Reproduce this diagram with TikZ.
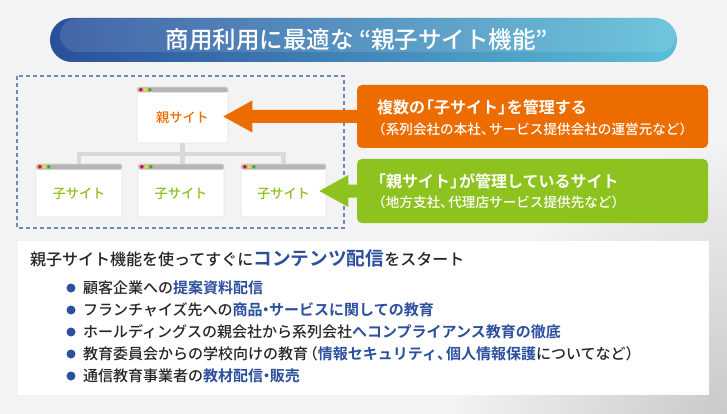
\documentclass[tikz,border=0pt]{standalone}
\usepackage{fontspec}
\setmainfont{Noto Sans CJK JP}[UprightFont={* Medium}, BoldFont={* Bold}]
\usetikzlibrary{calc}
\definecolor{bgc}{HTML}{F3F3F3}
\definecolor{bgd}{HTML}{C4C4C4}
\definecolor{banL}{HTML}{2A4F9C}
\definecolor{banR}{HTML}{5BBFD7}
\definecolor{dashc}{HTML}{7088BE}
\definecolor{orangec}{HTML}{ED6C00}
\definecolor{greenc}{HTML}{8DC21F}
\definecolor{bluec}{HTML}{2C4F9E}
\definecolor{treec}{HTML}{D9D9D9}
\definecolor{winbar}{HTML}{B5B5B5}
\definecolor{winborder}{HTML}{E2E2E2}
\definecolor{dred}{HTML}{E60012}
\definecolor{dyel}{HTML}{FFE100}
\definecolor{dgrn}{HTML}{3AA935}
\definecolor{textc}{HTML}{262626}
\newcommand{\hlt}[1]{{\bfseries\color{bluec}#1}}
\newcommand{\lowered}[1]{\raisebox{-3pt}[\height][\depth]{#1}}
\newcommand{\lb}{\kern-0.45em「}
\newcommand{\rb}{」\kern-0.45em}
\newcommand{\cm}{、\kern-0.4em}
\newcommand{\nk}{\kern-0.28em・\kern-0.28em}
\newcommand{\lp}{\kern-0.35em（}
\begin{document}
\begin{tikzpicture}[x=1pt,y=-1pt,
  win/.style={draw=winborder, line width=0.6pt, fill=white, rounded corners=1.5pt,
    inner sep=0pt, font=\fontsize{13.2}{14}\selectfont,
    path picture={
      \fill[winbar] (path picture bounding box.north west) rectangle ($(path picture bounding box.north east)+(0,5.5)$);
      \fill[dred] ($(path picture bounding box.north west)+(2,1)$) rectangle ++(3.5,3.5);
      \fill[dyel] ($(path picture bounding box.north west)+(6.5,1)$) rectangle ++(3.5,3.5);
      \fill[dgrn] ($(path picture bounding box.north west)+(11,1)$) rectangle ++(3.5,3.5);
    }},
  tree/.style={draw=treec, line width=4.5pt, line join=miter},
  infobox/.style={rounded corners=5pt, minimum width=351pt, inner sep=0pt},
  bigtxt/.style={anchor=west, inner sep=0pt, text=white, font=\bfseries\fontsize{16}{18}\selectfont},
  smalltxt/.style={anchor=west, inner sep=0pt, text=white, font=\fontsize{13.6}{15}\selectfont},
  bul/.style={circle, fill=bluec, minimum size=9pt, inner sep=0pt},
  item/.style={anchor=base west, inner sep=0pt, text=textc, font=\fontsize{15}{17}\selectfont}
]
\useasboundingbox (0,0) rectangle (727,414);
% background
\fill[bgc] (0,0) rectangle (727,414);
\begin{scope}
  \clip (0,0) rectangle (727,414);
  \shade[inner color=bgd, outer color=bgc] (750,440) circle (300);
\end{scope}
% banner
\shade[left color=banL, right color=banR, rounded corners=22pt] (50,18) rectangle (677,62);
\fill[white, opacity=0.12, rounded corners=17pt] (60,18.5) rectangle (676,52);
\node[text=white, font=\fontsize{23.5}{25}\selectfont, inner sep=0pt] (title) at (357,40) {商用利用に最適な “親子サイト機能”};
% dashed frame
\draw[dashc, line width=1.2pt, dash pattern=on 4pt off 3pt] (17,76) rectangle (344,228);
% windows
\node[win, minimum width=91pt, minimum height=56pt, text=orangec] (parent) at (182.5,115) {\lowered{親サイト}};
\node[win, minimum width=86pt, minimum height=53pt, text=greenc] (child1) at (79,190.5) {\lowered{子サイト}};
\node[win, minimum width=86pt, minimum height=53pt, text=greenc] (child2) at (181,190.5) {\lowered{子サイト}};
\node[win, minimum width=85pt, minimum height=53pt, text=greenc] (child3) at (283.5,190.5) {\lowered{子サイト}};
% tree
\draw[tree] (child1.north) |- (parent.south |- 0,154) -| (child3.north);
\draw[tree] (parent.south) -- (parent.south |- child2.north);
% info boxes
\node[infobox, fill=orangec, minimum height=63pt] (obox) at (532.5,116.5) {};
\node[infobox, fill=greenc, minimum height=64pt] (gbox) at (532.5,191) {};
\node[bigtxt] (o1) at (377,107) {複数の\lb 子サイト\rb を管理する};
\node[smalltxt] (o2) at (372,129) {（系列会社の本社\cm サービス提供会社の運営元など）};
\node[bigtxt] (g1) at (370,181) {「親サイト\rb が管理しているサイト};
\node[smalltxt] (g2) at (372,202) {（地方支社\cm 代理店サービス提供先など）};
% arrows
\coordinate (otip) at ($(parent.east |- obox.west)+(-5,0)$);
\fill[orangec] (otip) -- ($(otip)+(29,-16)$) -- ($(otip)+(29,-6.5)$) -- ($(obox.west)+(1,-6.5)$)
  -- ($(obox.west)+(1,6.5)$) -- ($(otip)+(29,6.5)$) -- ($(otip)+(29,16)$) -- cycle;
\coordinate (gtip) at ($(child3.east |- gbox.west)+(-7,0)$);
\fill[greenc] (gtip) -- ($(gtip)+(29,-16)$) -- ($(gtip)+(29,-6.5)$) -- ($(gbox.west)+(1,-6.5)$)
  -- ($(gbox.west)+(1,6.5)$) -- ($(gtip)+(29,6.5)$) -- ($(gtip)+(29,16)$) -- cycle;
% bottom panel
\fill[white] (18,241) rectangle (709,395);
\node[anchor=base west, inner sep=0pt, text=textc, font=\fontsize{16}{18}\selectfont] (head) at (30,265)
  {親子サイト機能を使ってすぐに{\fontsize{18.7}{20}\selectfont\hlt{コンテンツ配信}}をスタート};
\foreach \i/\t in {1/{顧客企業への\hlt{提案資料配信}},
                  2/{フランチャイズ先への\hlt{商品\nk サービスに関しての教育}},
                  3/{ホールディングスの親会社から系列会社\hlt{へコンプライアンス教育の徹底}},
                  4/{教育委員会からの学校向けの教育\lp\hlt{情報セキュリティ\cm 個人情報保護}についてなど）},
                  5/{通信教育事業者の\hlt{教材配信\nk 販売}}}{
  \node[bul] (b\i) at (71,266+22*\i) {};
  \node[item] (t\i) at (83,271.7+22*\i) {\t};
}
\end{tikzpicture}
\end{document}
